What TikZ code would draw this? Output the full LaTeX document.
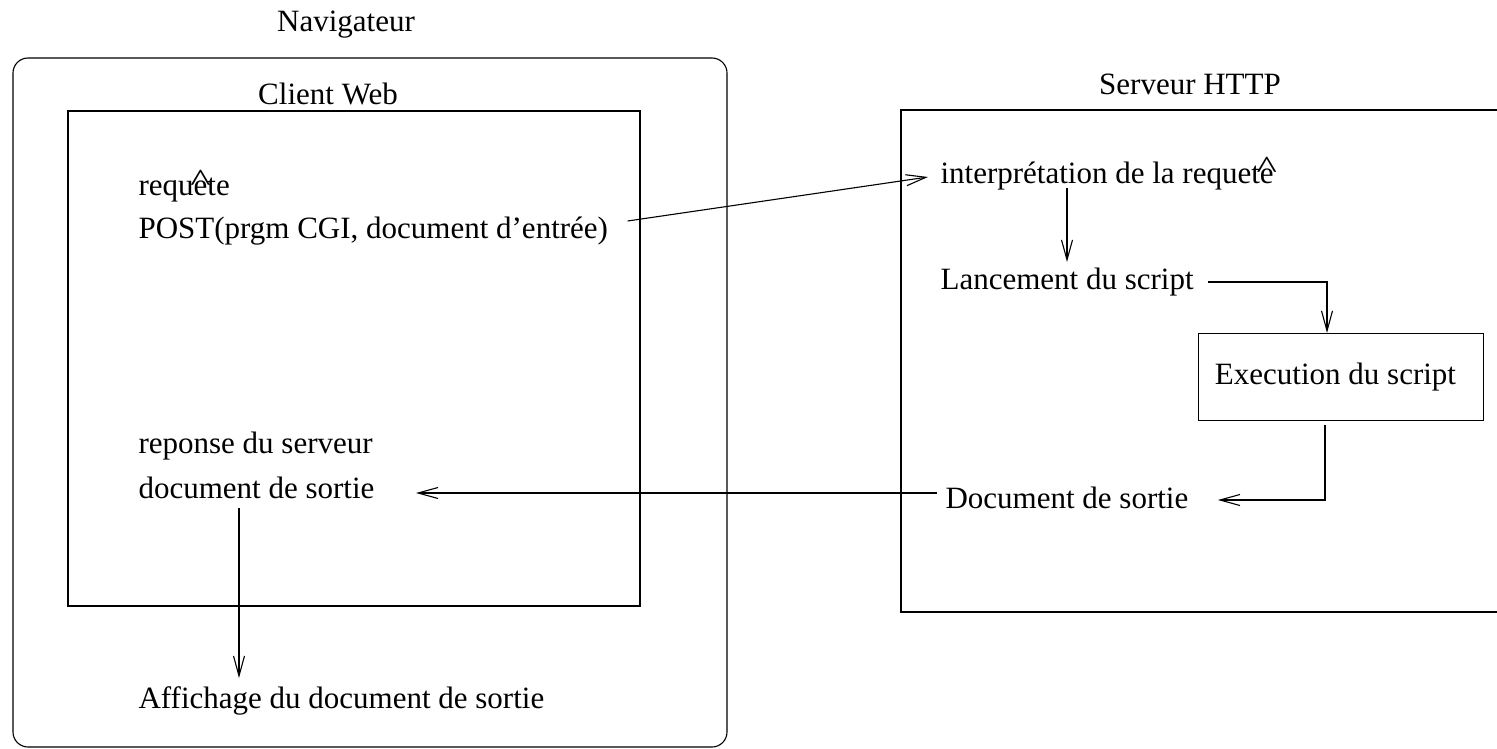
\documentclass[tikz,border=0pt]{standalone}
\usepackage{fontspec}
\setmainfont{Liberation Serif}
\usetikzlibrary{arrows.meta,calc}
% an "e" topped with a raised, widened circumflex
\newcommand\hate{\ooalign{e\cr\hidewidth\raisebox{.13em}{\scalebox{1.4}[1.05]{\^{}}}\hidewidth\cr}}
\begin{document}
\begin{tikzpicture}[x=1pt,y=-1pt,
  line width=1.1pt,
  txt/.style={inner sep=0pt,anchor=base west,font=\fontsize{31}{36}\selectfont},
  ttl/.style={inner sep=0pt,anchor=base,font=\fontsize{31}{36}\selectfont},
  flow/.style={-{Straight Barb[length=20pt,width=11pt,line width=1.1pt]}},
  procbox/.style={draw,minimum width=285pt,minimum height=87pt,inner sep=0pt,
    font=\fontsize{31}{36}\selectfont}]
\useasboundingbox (0,0) rectangle (1497,749);

% browser frame and web client
\draw[rounded corners=15pt] (13,58) rectangle (727,747);
\draw (68,111) rectangle (640,606);
\node[ttl] (nav) at (346,32) {Navigateur};
\node[ttl] (client) at (328,105) {Client Web};

% HTTP server frame (open on the right)
\draw (1497,110) -- (901,110) -- (901,612) -- (1497,612);
\node[ttl] (srv) at (1190,95) {Serveur HTTP};

% client side texts
\node[txt] (req) at (138,196) {requ\hate te};
\node[txt] (post) at (138,238) {POST(prgm CGI, document d’entrée)};
\node[txt] (rep) at (138,453) {reponse du serveur};
\node[txt] (docL) at (138,498) {document de sortie};
\node[txt] (aff) at (138,708) {Affichage du document de sortie};

% server side texts
\node[txt] (interp) at (940,183) {interprétation de la requet\hate};
\node[txt] (lanc) at (940,289) {Lancement du script};
\node[procbox] (exec) at (1341,377) {\hspace*{-11pt}Execution du script};
\node[txt] (docR) at (945,508) {Document de sortie};

% connectors
\draw[flow] ($(post.base east)+(19,-17)$) -- ($(interp.base west)+(-12,-6)$);
\draw[flow] ($(interp.base west)+(127,5)$) -- ($(lanc.base west)+(127,-27)$);
\draw[flow] ($(lanc.base east)+(14,-7)$) -| ($(exec.north)+(-14,0)$);
\draw[flow] ($(exec.south)+(-16,4)$) |- ($(docR.base east)+(29,-8)$);
\draw[flow] ($(docR.base west)+(-8,-15)$) -- ($(docL.base east)+(41,-5)$);
\draw[flow] ($(docL.base west)+(101,10)$) -- ($(aff.base west)+(101,-30)$);
\end{tikzpicture}
\end{document}
